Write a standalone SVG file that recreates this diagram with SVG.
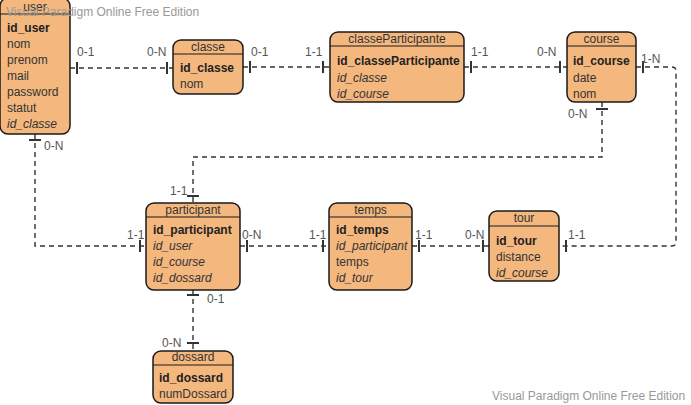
<svg xmlns="http://www.w3.org/2000/svg" width="691" height="405" viewBox="0 0 691 405">
  <style>
    .box { fill: #F4B77E; stroke: #1a1a1a; stroke-width: 1.5; }
    .sep { stroke: #1a1a1a; stroke-width: 1.2; }
    .title { font-family: "Liberation Sans", Arial, sans-serif; font-size: 12px; fill: #333; text-anchor: middle; }
    .f { font-family: "Liberation Sans", Arial, sans-serif; font-size: 12px; fill: #333; }
    .pk { font-weight: bold; fill: #222; }
    .fk { font-style: italic; }
    .link { fill: none; stroke: #333; stroke-width: 1.4; stroke-dasharray: 5 4; }
    .tick { stroke: #333; stroke-width: 2; }
    .card { font-family: "Liberation Sans", Arial, sans-serif; font-size: 12px; fill: #555; }
    .wm { font-family: "Liberation Sans", Arial, sans-serif; font-size: 12px; fill: #999; }
  </style>

  <rect width="691" height="405" fill="#ffffff"/>

  <!-- connectors -->
  <g id="connectors">
    <!-- user - classe -->
    <path class="link" d="M70 68 H173"/>
    <line class="tick" x1="77" y1="62" x2="77" y2="74"/>
    <line class="tick" x1="167" y1="62" x2="167" y2="74"/>
    <text class="card" x="77" y="56">0-1</text>
    <text class="card" x="147" y="56">0-N</text>

    <!-- classe - classeParticipante -->
    <path class="link" d="M243 67 H329"/>
    <line class="tick" x1="250" y1="61" x2="250" y2="73"/>
    <line class="tick" x1="323" y1="61" x2="323" y2="73"/>
    <text class="card" x="251" y="56">0-1</text>
    <text class="card" x="305" y="56">1-1</text>

    <!-- classeParticipante - course -->
    <path class="link" d="M464 67 H567"/>
    <line class="tick" x1="471" y1="61" x2="471" y2="73"/>
    <line class="tick" x1="560" y1="61" x2="560" y2="73"/>
    <text class="card" x="471" y="56">1-1</text>
    <text class="card" x="537" y="56">0-N</text>

    <!-- course - tour -->
    <path class="link" d="M636 67 H672 Q676 67 676 71 V242 Q676 246 672 246 H559"/>
    <line class="tick" x1="643" y1="61" x2="643" y2="73"/>
    <line class="tick" x1="566" y1="240" x2="566" y2="252"/>
    <text class="card" x="641" y="63">1-N</text>
    <text class="card" x="568" y="239">1-1</text>

    <!-- course - participant -->
    <path class="link" d="M602 102 V157 H193 V203"/>
    <line class="tick" x1="596" y1="109" x2="608" y2="109"/>
    <line class="tick" x1="187" y1="196" x2="199" y2="196"/>
    <text class="card" x="568" y="118">0-N</text>
    <text class="card" x="170" y="195">1-1</text>

    <!-- user - participant -->
    <path class="link" d="M35 134 V246 H146"/>
    <line class="tick" x1="29" y1="140" x2="41" y2="140"/>
    <line class="tick" x1="140" y1="240" x2="140" y2="252"/>
    <text class="card" x="44" y="150">0-N</text>
    <text class="card" x="127" y="239">1-1</text>

    <!-- participant - temps -->
    <path class="link" d="M240 246 H329"/>
    <line class="tick" x1="247" y1="240" x2="247" y2="252"/>
    <line class="tick" x1="323" y1="240" x2="323" y2="252"/>
    <text class="card" x="242" y="239">0-N</text>
    <text class="card" x="309" y="239">1-1</text>

    <!-- temps - tour -->
    <path class="link" d="M412 246 H489"/>
    <line class="tick" x1="419" y1="240" x2="419" y2="252"/>
    <line class="tick" x1="483" y1="240" x2="483" y2="252"/>
    <text class="card" x="415" y="239">1-1</text>
    <text class="card" x="465" y="239">0-N</text>

    <!-- participant - dossard -->
    <path class="link" d="M193 290 V351"/>
    <line class="tick" x1="187" y1="295" x2="199" y2="295"/>
    <line class="tick" x1="187" y1="343" x2="199" y2="343"/>
    <text class="card" x="207" y="303">0-1</text>
    <text class="card" x="162" y="347">0-N</text>
  </g>

  <g id="user">
    <rect class="box" x="0" y="-2" width="70" height="136" rx="8"/>
    <line class="sep" x1="0" y1="14" x2="70" y2="14"/>
    <text class="title" x="35" y="11">user</text>
    <text class="f pk" x="7" y="32">id_user</text>
    <text class="f" x="7" y="48">nom</text>
    <text class="f" x="7" y="64">prenom</text>
    <text class="f" x="7" y="80">mail</text>
    <text class="f" x="7" y="96">password</text>
    <text class="f" x="7" y="112">statut</text>
    <text class="f fk" x="7" y="128">id_classe</text>
  </g>

  <g id="classe">
    <rect class="box" x="173" y="40" width="70" height="54" rx="8"/>
    <line class="sep" x1="173" y1="54" x2="243" y2="54"/>
    <text class="title" x="208" y="51">classe</text>
    <text class="f pk" x="180" y="72">id_classe</text>
    <text class="f" x="180" y="88">nom</text>
  </g>

  <g id="classeParticipante">
    <rect class="box" x="330" y="32" width="134" height="70" rx="8"/>
    <line class="sep" x1="330" y1="46" x2="464" y2="46"/>
    <text class="title" x="397" y="43">classeParticipante</text>
    <text class="f pk" x="337" y="65">id_classeParticipante</text>
    <text class="f fk" x="337" y="82">id_classe</text>
    <text class="f fk" x="337" y="98">id_course</text>
  </g>

  <g id="course">
    <rect class="box" x="567" y="32" width="69" height="70" rx="8"/>
    <line class="sep" x1="567" y1="46" x2="636" y2="46"/>
    <text class="title" x="601.5" y="43">course</text>
    <text class="f pk" x="573" y="65">id_course</text>
    <text class="f" x="573" y="82">date</text>
    <text class="f" x="573" y="98">nom</text>
  </g>

  <g id="participant">
    <rect class="box" x="146" y="203" width="94" height="87" rx="8"/>
    <line class="sep" x1="146" y1="217" x2="240" y2="217"/>
    <text class="title" x="193" y="214">participant</text>
    <text class="f pk" x="153" y="234">id_participant</text>
    <text class="f fk" x="153" y="250">id_user</text>
    <text class="f fk" x="153" y="266">id_course</text>
    <text class="f fk" x="153" y="282">id_dossard</text>
  </g>

  <g id="temps">
    <rect class="box" x="329" y="203" width="83" height="87" rx="8"/>
    <line class="sep" x1="329" y1="217" x2="412" y2="217"/>
    <text class="title" x="370.5" y="214">temps</text>
    <text class="f pk" x="336" y="234">id_temps</text>
    <text class="f fk" x="336" y="250">id_participant</text>
    <text class="f" x="336" y="266">temps</text>
    <text class="f fk" x="336" y="282">id_tour</text>
  </g>

  <g id="tour">
    <rect class="box" x="489" y="211" width="70" height="70" rx="8"/>
    <line class="sep" x1="489" y1="226" x2="559" y2="226"/>
    <text class="title" x="524" y="222">tour</text>
    <text class="f pk" x="496" y="245">id_tour</text>
    <text class="f" x="496" y="261">distance</text>
    <text class="f fk" x="496" y="277">id_course</text>
  </g>

  <g id="dossard">
    <rect class="box" x="153" y="351" width="80" height="52" rx="8"/>
    <line class="sep" x1="153" y1="365" x2="233" y2="365"/>
    <text class="title" x="193" y="361">dossard</text>
    <text class="f pk" x="159" y="382">id_dossard</text>
    <text class="f" x="159" y="398">numDossard</text>
  </g>

  <text class="wm" x="6" y="16">Visual Paradigm Online Free Edition</text>
  <text class="wm" x="492" y="400">Visual Paradigm Online Free Edition</text>
</svg>
